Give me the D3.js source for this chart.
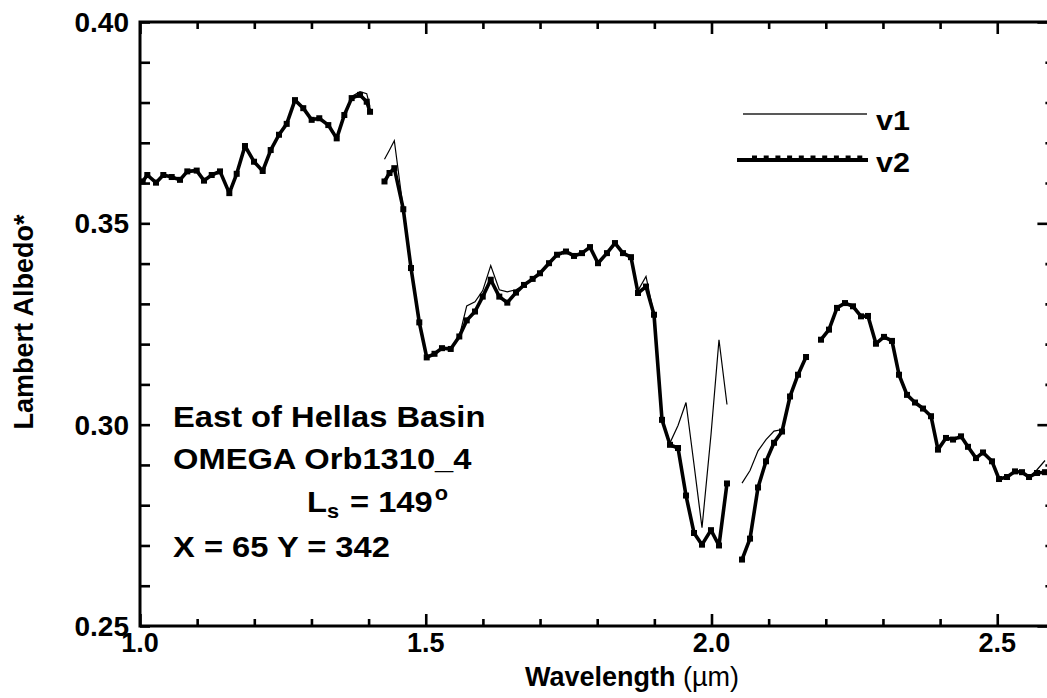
<!DOCTYPE html>
<html>
<head>
<meta charset="utf-8">
<script src="https://cdn.jsdelivr.net/npm/d3@7/dist/d3.min.js"></script>
<style>
  html, body { margin: 0; padding: 0; background: #fff; }
  svg { display: block; }
  text { font-family: "Liberation Sans", Arial, Helvetica, sans-serif; fill: #000; }
</style>
</head>
<body>
<svg id="chart" width="1047" height="698"></svg>
<script>
// ---- Spectral segments (wavelength in µm) ----
const wlA = [1.0047, 1.0128, 1.0280, 1.0408, 1.0555, 1.0700, 1.0828, 1.0992, 1.1120, 1.1255,
             1.1400, 1.1563, 1.1692, 1.1837, 1.1995, 1.2147, 1.2287, 1.2432, 1.2567, 1.2712,
             1.2857, 1.3004, 1.3137, 1.3295, 1.3442, 1.3575, 1.3704, 1.3850, 1.3967, 1.4025];
const v2A = [0.3604, 0.3620, 0.3601, 0.3620, 0.3615, 0.3608, 0.3629, 0.3631, 0.3606, 0.3620,
             0.3629, 0.3575, 0.3623, 0.3692, 0.3653, 0.3630, 0.3682, 0.3720, 0.3747, 0.3806,
             0.3786, 0.3757, 0.3761, 0.3744, 0.3711, 0.3769, 0.3811, 0.3819, 0.3802, 0.3777];
const v1A = [0.3604, 0.3620, 0.3601, 0.3620, 0.3615, 0.3608, 0.3629, 0.3631, 0.3606, 0.3620,
             0.3629, 0.3575, 0.3623, 0.3692, 0.3653, 0.3630, 0.3682, 0.3720, 0.3747, 0.3806,
             0.3786, 0.3757, 0.3761, 0.3744, 0.3711, 0.3769, 0.3815, 0.3827, 0.3822, 0.3790];

const wlB = [1.4278, 1.4366, 1.4450, 1.4607, 1.4742, 1.4887, 1.5017, 1.5153, 1.5284, 1.5437,
             1.5587, 1.5717, 1.5862, 1.5997, 1.6137, 1.6287, 1.6427, 1.6579, 1.6719, 1.6871,
             1.6999, 1.7157, 1.7297, 1.7454, 1.7594, 1.7734, 1.7874, 1.8014, 1.8171, 1.8311,
             1.8451, 1.8591, 1.8714, 1.8854, 1.8994, 1.9134, 1.9274, 1.9414, 1.9554, 1.9694,
             1.9834, 1.9991, 2.0131, 2.0271];
const v2B = [0.3604, 0.3625, 0.3637, 0.3535, 0.3389, 0.3254, 0.3167, 0.3176, 0.3190, 0.3188,
             0.3219, 0.3259, 0.3281, 0.3318, 0.3360, 0.3318, 0.3303, 0.3328, 0.3347, 0.3362,
             0.3376, 0.3401, 0.3422, 0.3430, 0.3419, 0.3426, 0.3441, 0.3401, 0.3426, 0.3451,
             0.3426, 0.3416, 0.3327, 0.3343, 0.3273, 0.3012, 0.2950, 0.2942, 0.2824, 0.2731,
             0.2702, 0.2738, 0.2700, 0.2854];
const v1B = [0.3659, 0.3682, 0.3705, 0.3535, 0.3389, 0.3254, 0.3167, 0.3176, 0.3190, 0.3188,
             0.3219, 0.3295, 0.3305, 0.3333, 0.3395, 0.3335, 0.3330, 0.3335, 0.3347, 0.3362,
             0.3376, 0.3401, 0.3422, 0.3430, 0.3419, 0.3426, 0.3441, 0.3401, 0.3426, 0.3451,
             0.3426, 0.3416, 0.3333, 0.3368, 0.3273, 0.3012, 0.2955, 0.2998, 0.3055, 0.2901,
             0.2744, 0.2975, 0.3211, 0.3050];

const wlC = [2.0534, 2.0674, 2.0814, 2.0954, 2.1094, 2.1234, 2.1374, 2.1514, 2.1654];
const v2C = [0.2665, 0.2717, 0.2844, 0.2909, 0.2955, 0.2983, 0.3070, 0.3124, 0.3168];
const v1C = [0.2855, 0.2886, 0.2935, 0.2963, 0.2984, 0.2988, 0.3070, 0.3124, 0.3168];

const wlD = [2.1916, 2.2056, 2.2196, 2.2336, 2.2476, 2.2616, 2.2738, 2.2878, 2.3018, 2.3158,
             2.3281, 2.3421, 2.3561, 2.3701, 2.3841, 2.3963, 2.4103, 2.4226, 2.4366, 2.4488,
             2.4628, 2.4751, 2.4908, 2.5031, 2.5171, 2.5311, 2.5433, 2.5556, 2.5696, 2.5836];
const v2D = [0.3211, 0.3236, 0.3290, 0.3302, 0.3294, 0.3269, 0.3270, 0.3201, 0.3218, 0.3208,
             0.3124, 0.3074, 0.3055, 0.3040, 0.3021, 0.2938, 0.2967, 0.2963, 0.2971, 0.2945,
             0.2917, 0.2931, 0.2909, 0.2865, 0.2870, 0.2884, 0.2882, 0.2870, 0.2880, 0.2882];
const v1D = [0.3211, 0.3236, 0.3290, 0.3302, 0.3294, 0.3269, 0.3270, 0.3201, 0.3218, 0.3208,
             0.3124, 0.3074, 0.3055, 0.3040, 0.3021, 0.2938, 0.2967, 0.2963, 0.2971, 0.2945,
             0.2917, 0.2931, 0.2909, 0.2865, 0.2870, 0.2884, 0.2882, 0.2870, 0.2888, 0.2911];

// ---- Axis ticks and labels ----
const xMajor = [1.0, 1.5, 2.0, 2.5];
const xMinor = [1.1, 1.2, 1.3, 1.4, 1.6, 1.7, 1.8, 1.9, 2.1, 2.2, 2.3, 2.4];
const xTickLabels = ["1.0", "1.5", "2.0", "2.5"];
const yMajor = [0.25, 0.30, 0.35, 0.40];
const yMinor = [0.26, 0.27, 0.28, 0.29, 0.31, 0.32, 0.33, 0.34, 0.36, 0.37, 0.38, 0.39];
const yTickLabels = ["0.25", "0.30", "0.35", "0.40"];

const seriesNames = ["v1", "v2"];
const noteLines = ["East of Hellas Basin", "OMEGA Orb1310_4"];
const coordLine = "X = 65 Y = 342";
const solarLongitude = "149";

// ---- Layout ----
const svg = d3.select("#chart");
const plotL = 140, plotR = 1054.4, plotT = 22, plotB = 626;
const x = d3.scaleLinear().domain([1.0, 2.6]).range([plotL, plotR]);
const y = d3.scaleLinear().domain([0.25, 0.40]).range([plotB, plotT]);
const wide = 1.09; // horizontal stretch of the annotation lettering

// axes: ticks point inward on all four sides
function tickAxis(axisFn, scale, values, size, transform) {
  const g = svg.append("g").attr("transform", transform)
    .call(axisFn(scale).tickValues(values).tickSize(size).tickSizeOuter(0).tickFormat(""));
  g.select(".domain").remove();
  g.selectAll(".tick line").attr("stroke", "#000").attr("stroke-width", 2.6);
  return g;
}
tickAxis(d3.axisTop, x, xMajor, 12, `translate(0,${plotB})`);
tickAxis(d3.axisTop, x, xMinor, 7, `translate(0,${plotB})`);
tickAxis(d3.axisBottom, x, xMajor, 12, `translate(0,${plotT})`);
tickAxis(d3.axisBottom, x, xMinor, 7, `translate(0,${plotT})`);
tickAxis(d3.axisRight, y, yMajor, 10, `translate(${plotL},0)`);
tickAxis(d3.axisRight, y, yMinor, 10, `translate(${plotL},0)`);
tickAxis(d3.axisLeft, y, yMajor, 17, `translate(${plotR},0)`);
tickAxis(d3.axisLeft, y, yMinor, 9, `translate(${plotR},0)`);

// plot frame
svg.append("rect")
  .attr("x", plotL).attr("y", plotT)
  .attr("width", plotR - plotL).attr("height", plotB - plotT)
  .attr("fill", "none").attr("stroke", "#000").attr("stroke-width", 3);

// tick labels
svg.append("g").selectAll("text").data(xMajor).join("text")
  .attr("x", d => x(d)).attr("y", 652)
  .attr("text-anchor", "middle")
  .attr("font-size", 27).attr("font-weight", "bold")
  .text((d, i) => xTickLabels[i]);
svg.append("g").selectAll("text").data(yMajor).join("text")
  .attr("x", 129).attr("y", d => y(d) + 10)
  .attr("text-anchor", "end")
  .attr("font-size", 28).attr("font-weight", "bold")
  .text((d, i) => yTickLabels[i]);

// axis titles
const xt = svg.append("text")
  .attr("x", 632).attr("y", 686)
  .attr("text-anchor", "middle")
  .attr("font-size", 27).attr("font-weight", "bold");
xt.append("tspan").text("Wavelength ");
xt.append("tspan").attr("font-weight", "normal").text("(\u00b5m)");

svg.append("text")
  .attr("transform", "translate(33,322) rotate(-90)")
  .attr("text-anchor", "middle")
  .attr("font-size", 27).attr("font-weight", "bold")
  .text("Lambert Albedo*");

// ---- Spectra ----
const segments = [
  { wl: wlA, v1: v1A, v2: v2A },
  { wl: wlB, v1: v1B, v2: v2B },
  { wl: wlC, v1: v1C, v2: v2C },
  { wl: wlD, v1: v1D, v2: v2D }
];
const line = d3.line().x(d => x(d[0])).y(d => y(d[1]));
svg.append("clipPath").attr("id", "plotClip")
  .append("rect").attr("x", plotL).attr("y", plotT)
  .attr("width", plotR - plotL).attr("height", plotB - plotT);
const plot = svg.append("g").attr("clip-path", "url(#plotClip)");

segments.forEach(s => {
  const p2 = s.wl.map((w, i) => [w, s.v2[i]]);
  const p1 = s.wl.map((w, i) => [w, s.v1[i]]);
  plot.append("path").datum(p2).attr("d", line)
    .attr("fill", "none").attr("stroke", "#000").attr("stroke-width", 3.6)
    .attr("stroke-linejoin", "round");
  plot.append("g").selectAll("rect").data(p2).join("rect")
    .attr("x", d => x(d[0]) - 3).attr("y", d => y(d[1]) - 3)
    .attr("width", 6).attr("height", 6).attr("fill", "#000");
  plot.append("path").datum(p1).attr("d", line)
    .attr("fill", "none").attr("stroke", "#000").attr("stroke-width", 1.2);
});

// ---- Legend ----
svg.append("line").attr("x1", 743).attr("x2", 867).attr("y1", 114).attr("y2", 114)
  .attr("stroke", "#222").attr("stroke-width", 1.3);
svg.append("line").attr("x1", 737).attr("x2", 868).attr("y1", 160).attr("y2", 160)
  .attr("stroke", "#000").attr("stroke-width", 4);
svg.append("g").selectAll("rect").data(d3.range(10)).join("rect")
  .attr("x", i => 752 + i * 11.7).attr("y", 155.5)
  .attr("width", 5).attr("height", 3).attr("fill", "#000");
const legendText = svg.append("g")
  .attr("transform", `translate(876,0) scale(${wide},1)`)
  .attr("font-size", 28).attr("font-weight", "bold");
legendText.append("text").attr("x", 0).attr("y", 130).text(seriesNames[0]);
legendText.append("text").attr("x", 0).attr("y", 172).text(seriesNames[1]);

// ---- Annotation ----
const note = svg.append("g")
  .attr("transform", `translate(173,0) scale(${wide},1)`)
  .attr("font-size", 30).attr("font-weight", "bold");
note.append("text").attr("x", 0).attr("y", 427).text(noteLines[0]);
note.append("text").attr("x", 0).attr("y", 469).text(noteLines[1]);
const ls = note.append("text").attr("x", (307 - 173) / wide).attr("y", 512);
ls.append("tspan").text("L");
ls.append("tspan").attr("font-size", 20).attr("dy", 6).text("s");
ls.append("tspan").attr("dy", -6).attr("dx", 10).text("= " + solarLongitude);
ls.append("tspan").attr("font-size", 20).attr("dy", -12).attr("dx", 2).text("o");
note.append("text").attr("x", 0).attr("y", 557).text(coordLine);
</script>
</body>
</html>
